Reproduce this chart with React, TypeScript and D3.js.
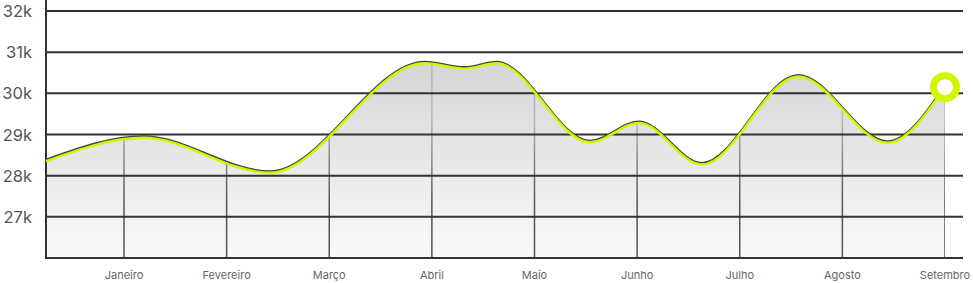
import React from "react";
import * as d3 from "d3";

const monthLabels = ["Janeiro", "Fevereiro", "Março", "Abril", "Maio", "Junho", "Julho", "Agosto", "Setembro"];
// sample positions expressed in months (0 = Janeiro)
const samplePos = [-0.76, 0.19, 1.42, 2.93, 3.32, 3.63, 4.54, 5.02, 5.63, 6.57, 7.44, 8];
const sampleValues = [28350, 28920, 28070, 30730, 30600, 30730, 28810, 29280, 28270, 30410, 28800, 30150];
const yTicks = [27000, 28000, 29000, 30000, 31000, 32000];
const yTickLabels = ["27k", "28k", "29k", "30k", "31k", "32k"];

const W = 973;
const H = 283;
const left = 46;
const right = 963;
const top = 11;
const bottom = 258;

export default function App() {
  const x = d3.scaleLinear().domain([0, 8]).range([124, 945]);
  const y = d3.scaleLinear().domain([26000, 32000]).range([bottom, top]);
  const pts: [number, number][] = samplePos.map((p, i) => [p, sampleValues[i]]);
  const curve = d3.curveMonotoneX;
  const line = d3.line<[number, number]>().x((d) => x(d[0])).y((d) => y(d[1])).curve(curve);
  const area = d3
    .area<[number, number]>()
    .x((d) => x(d[0]))
    .y0(bottom)
    .y1((d) => y(d[1]))
    .curve(curve);
  const areaD = area(pts) || "";
  const lineD = line(pts) || "";
  const lastVal = sampleValues[sampleValues.length - 1];
  const lime = "#d4f500";
  return (
    <svg width={W} height={H} style={{ position: "fixed", left: 0, top: 0, background: "#fff" }}>
      <defs>
        <linearGradient id="areaG" gradientUnits="userSpaceOnUse" x1="0" y1="60" x2="0" y2={bottom}>
          <stop offset="0" stopColor="#d5d5d5" />
          <stop offset="1" stopColor="#fafafa" />
        </linearGradient>
        <linearGradient id="vG" gradientUnits="userSpaceOnUse" x1="0" y1="120" x2="0" y2="200">
          <stop offset="0" stopColor="#b8b8b8" />
          <stop offset="1" stopColor="#555" />
        </linearGradient>
        <clipPath id="areaClip">
          <path d={areaD} />
        </clipPath>
      </defs>
      <path d={areaD} fill="url(#areaG)" />
      <g clipPath="url(#areaClip)">
        {monthLabels.map((m, i) => (
          <line key={m} x1={x(i)} x2={x(i)} y1={0} y2={bottom} stroke="url(#vG)" strokeWidth={1.5} />
        ))}
      </g>
      {yTicks.map((t) => (
        <line key={t} x1={left} x2={right} y1={y(t)} y2={y(t)} stroke="#333" strokeWidth={2} />
      ))}
      <line x1={left} x2={left} y1={0} y2={bottom + 1} stroke="#333" strokeWidth={2} />
      <line x1={left} x2={right} y1={bottom} y2={bottom} stroke="#333" strokeWidth={2} />
      <path d={lineD} fill="none" stroke="#444" strokeWidth={2.5} transform="translate(0,-1.3)" />
      <path d={lineD} fill="none" stroke={lime} strokeWidth={2.5} />
      <circle cx={x(8)} cy={y(lastVal)} r={11.5} fill="#fff" stroke={lime} strokeWidth={7} />
      {yTicks.map((t, i) => (
        <text
          key={t}
          x={32}
          y={y(t)}
          textAnchor="end"
          dominantBaseline="central"
          fontFamily="Inter, 'Noto Sans', sans-serif"
          fontSize={16.5}
          fill="#555"
        >
          {yTickLabels[i]}
        </text>
      ))}
      {monthLabels.map((m, i) => (
        <text
          key={m}
          x={x(i)}
          y={275}
          textAnchor="middle"
          dominantBaseline="central"
          fontFamily="Inter, 'Noto Sans', sans-serif"
          fontSize={11}
          fill="#666"
        >
          {m}
        </text>
      ))}
    </svg>
  );
}
